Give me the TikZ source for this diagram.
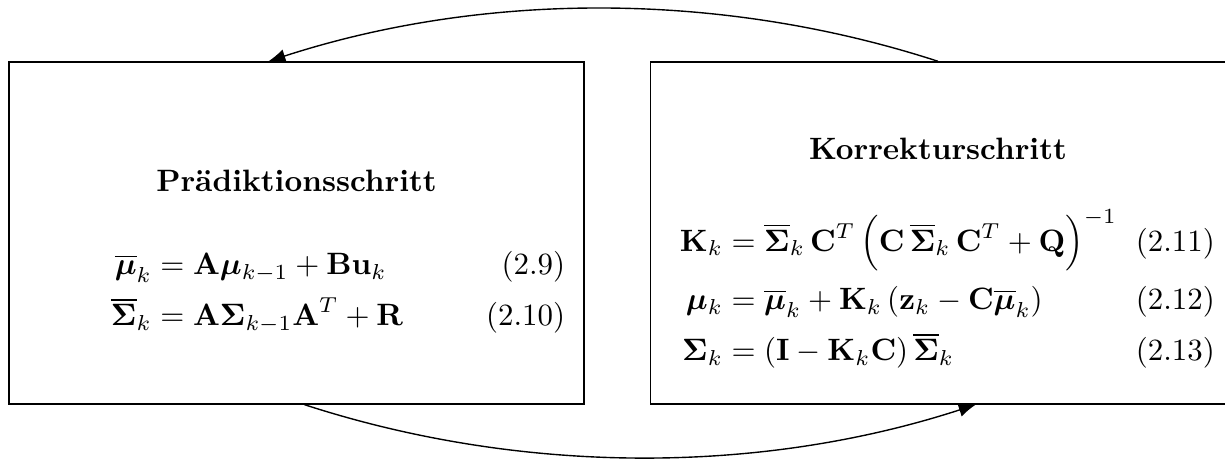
\documentclass[tikz,border=0pt]{standalone}
\usepackage{amsmath}
\usepackage{bm}
\usetikzlibrary{positioning}
\usetikzlibrary{arrows.meta}

\tikzset{
    stepbox/.style={draw, line width=0.45pt, minimum width=6.54cm, minimum height=3.89cm, inner sep=0pt},
    steptext/.style={inner sep=0pt},
    flow/.style={-{Latex[length=5.5pt,width=4.5pt]}, line width=0.45pt},
}

\begin{document}
\begin{tikzpicture}
    \useasboundingbox (0,0) rectangle (13.934,5.244);

    % prediction and correction step
    \node[stepbox] (pred) at (3.373,2.594) {};
    \node[stepbox, right=7.4mm of pred] (korr) {};

    \node[steptext] (predtext) at ([yshift=-2.3mm]pred.center) {\begin{minipage}{6.11cm}
        \setlength{\abovedisplayskip}{15pt}
        \centering
        {\bfseries Prädiktionsschritt}
        \begin{align}
            \overline{\bm{\mu}}_k &= \mathbf{A}\bm{\mu}_{k-1} + \mathbf{B}\mathbf{u}_k \tag{2.9}\\
            \overline{\bm{\Sigma}}_k &= \mathbf{A}\bm{\Sigma}_{k-1}\mathbf{A}^T + \mathbf{R} \tag{2.10}
        \end{align}
    \end{minipage}};
    \node[steptext] (korrtext) at ([yshift=-2.5mm]korr.center) {\begin{minipage}{6.3cm}
        \setlength{\abovedisplayskip}{15pt}
        \centering
        {\bfseries Korrekturschritt}
        \begin{align}
            \mathbf{K}_k &= \overline{\bm{\Sigma}}_k\,\mathbf{C}^T\,\Bigl(\mathbf{C}\,\overline{\bm{\Sigma}}_k\,\mathbf{C}^T + \mathbf{Q}\Bigr)^{-1} \tag{2.11}\\
            \bm{\mu}_k &= \overline{\bm{\mu}}_k + \mathbf{K}_k\left(\mathbf{z}_k - \mathbf{C}\overline{\bm{\mu}}_k\right) \tag{2.12}\\
            \bm{\Sigma}_k &= \left(\mathbf{I} - \mathbf{K}_k\mathbf{C}\right)\overline{\bm{\Sigma}}_k \tag{2.13}
        \end{align}
    \end{minipage}};

    % loop between the steps
    \coordinate (predin) at ([xshift=-3.2mm]pred.north);
    \coordinate (predout) at ([xshift=0.9mm]pred.south);
    \coordinate (korrin) at ([xshift=4.3mm]korr.south);
    \draw[flow] (korr.north) to[bend right=18, looseness=0.87] (predin);
    \draw[flow] (predout) to[bend right=18, looseness=0.87] (korrin);
\end{tikzpicture}
\end{document}
